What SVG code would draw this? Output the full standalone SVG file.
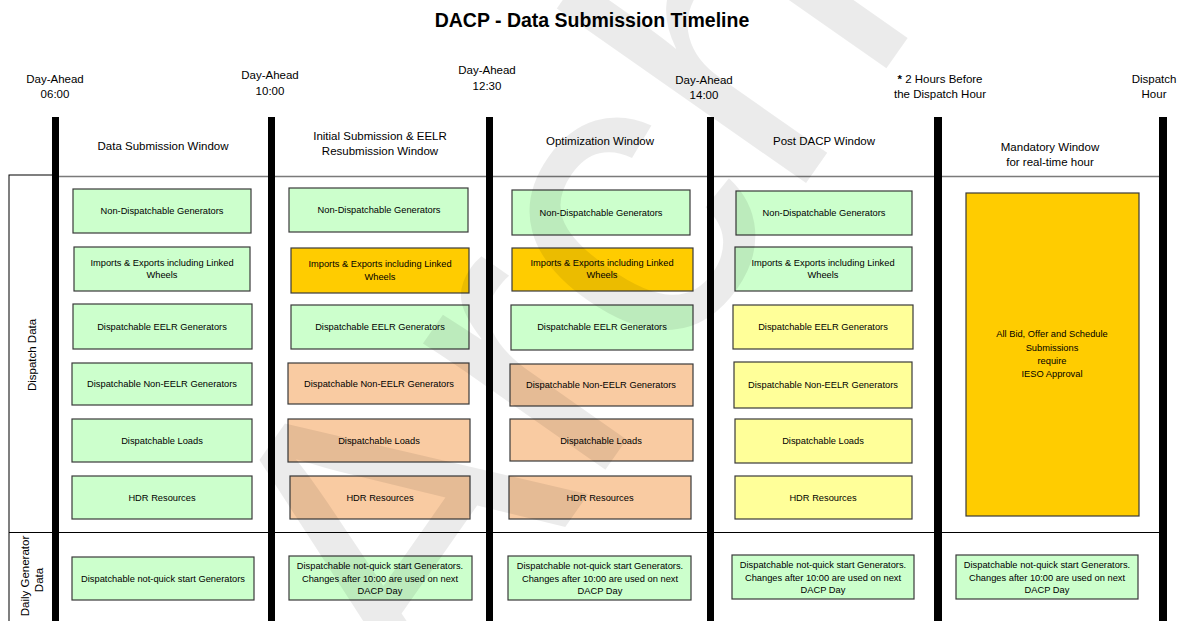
<svg xmlns="http://www.w3.org/2000/svg" width="1178" height="621" viewBox="0 0 1178 621">
<style>
text{font-family:"Liberation Sans",Arial,sans-serif;fill:#000}
.t{font-size:11.5px;text-anchor:middle}
.b{font-size:9.3px;text-anchor:middle}
.g{fill:#CCFFCC;stroke:#3a3a3a;stroke-width:1.2}
.o{fill:#FFCC00;stroke:#3a3a3a;stroke-width:1.2}
.p{fill:#F9CBA2;stroke:#3a3a3a;stroke-width:1.2}
.y{fill:#FFFF99;stroke:#3a3a3a;stroke-width:1.2}
.bar{fill:#000}
</style>
<rect width="1178" height="621" fill="#fff"/>
<text x="592" y="27" style="font-size:19.5px;font-weight:bold;text-anchor:middle">DACP - Data Submission Timeline</text>

<g id="time-labels">
<text class="t" x="55" y="83">Day-Ahead</text><text class="t" x="55" y="98">06:00</text>
<text class="t" x="270" y="79">Day-Ahead</text><text class="t" x="270" y="95">10:00</text>
<text class="t" x="487" y="74">Day-Ahead</text><text class="t" x="487" y="90">12:30</text>
<text class="t" x="704" y="84">Day-Ahead</text><text class="t" x="704" y="99">14:00</text>
<text class="t" x="940" y="83"><tspan font-weight="bold">*</tspan> 2 Hours Before</text><text class="t" x="940" y="98">the Dispatch Hour</text>
<text class="t" x="1154" y="83">Dispatch</text><text class="t" x="1154" y="98">Hour</text>
</g>

<g id="window-labels">
<text class="t" x="163" y="150">Data Submission Window</text>
<text class="t" x="380" y="140">Initial Submission &amp; EELR</text><text class="t" x="380" y="155">Resubmission Window</text>
<text class="t" x="600" y="145">Optimization Window</text>
<text class="t" x="824" y="145">Post DACP Window</text>
<text class="t" x="1050" y="151">Mandatory Window</text><text class="t" x="1050" y="166">for real-time hour</text>
</g>

<g id="grid">
<rect x="9" y="175" width="45" height="450" fill="none" stroke="#000" stroke-width="1"/>
<line x1="54" y1="176.5" x2="1160" y2="176.5" stroke="#7a7a7a" stroke-width="1.5"/>
<line x1="9" y1="532.5" x2="1160" y2="532.5" stroke="#000" stroke-width="1"/>
<text class="t" transform="translate(36,355) rotate(-90)">Dispatch Data</text>
<text class="t" transform="translate(29,576) rotate(-90)">Daily Generator</text>
<text class="t" transform="translate(43,580) rotate(-90)">Data</text>
</g>

<g id="col1">
<g id="c1-nondisp"><rect class="g" x="73" y="189" width="178" height="44"/><text class="b" x="162" y="214">Non-Dispatchable Generators</text></g>
<g id="c1-imports"><rect class="g" x="74" y="247" width="176" height="44"/><text class="b" x="162" y="266">Imports &amp; Exports including Linked</text><text class="b" x="162" y="278">Wheels</text></g>
<g id="c1-eelr"><rect class="g" x="73" y="304" width="179" height="45"/><text class="b" x="162" y="330">Dispatchable EELR Generators</text></g>
<g id="c1-noneelr"><rect class="g" x="72" y="363" width="180" height="42"/><text class="b" x="162" y="387">Dispatchable Non-EELR Generators</text></g>
<g id="c1-loads"><rect class="g" x="72" y="419" width="180" height="43"/><text class="b" x="162" y="444">Dispatchable Loads</text></g>
<g id="c1-hdr"><rect class="g" x="72" y="476" width="180" height="43"/><text class="b" x="162" y="501">HDR Resources</text></g>
<g id="c1-daily"><rect class="g" x="72" y="557" width="182" height="43"/><text class="b" x="163" y="582">Dispatchable not-quick start Generators</text></g>
</g>

<g id="col2">
<g id="c2-nondisp"><rect class="g" x="289" y="188" width="179" height="44"/><text class="b" x="379" y="213">Non-Dispatchable Generators</text></g>
<g id="c2-imports"><rect class="o" x="291" y="248" width="178" height="45"/><text class="b" x="380" y="267">Imports &amp; Exports including Linked</text><text class="b" x="380" y="280">Wheels</text></g>
<g id="c2-eelr"><rect class="g" x="291" y="305" width="178" height="44"/><text class="b" x="380" y="330">Dispatchable EELR Generators</text></g>
<g id="c2-noneelr"><rect class="p" x="288" y="363" width="181" height="41"/><text class="b" x="379" y="387">Dispatchable Non-EELR Generators</text></g>
<g id="c2-loads"><rect class="p" x="288" y="419" width="182" height="43"/><text class="b" x="379" y="444">Dispatchable Loads</text></g>
<g id="c2-hdr"><rect class="p" x="290" y="476" width="180" height="43"/><text class="b" x="380" y="501">HDR Resources</text></g>
<g id="c2-daily"><rect class="g" x="289" y="556" width="183" height="44"/><text class="b" x="380" y="569">Dispatchable not-quick start Generators.</text><text class="b" x="380" y="582">Changes after 10:00 are used on next</text><text class="b" x="380" y="594">DACP Day</text></g>
</g>

<g id="col3">
<g id="c3-nondisp"><rect class="g" x="512" y="190" width="178" height="45"/><text class="b" x="601" y="216">Non-Dispatchable Generators</text></g>
<g id="c3-imports"><rect class="o" x="512" y="248" width="181" height="43"/><text class="b" x="602" y="266">Imports &amp; Exports including Linked</text><text class="b" x="602" y="278">Wheels</text></g>
<g id="c3-eelr"><rect class="g" x="511" y="305" width="182" height="45"/><text class="b" x="602" y="330">Dispatchable EELR Generators</text></g>
<g id="c3-noneelr"><rect class="p" x="510" y="364" width="183" height="42"/><text class="b" x="601" y="388">Dispatchable Non-EELR Generators</text></g>
<g id="c3-loads"><rect class="p" x="510" y="419" width="183" height="42"/><text class="b" x="601" y="444">Dispatchable Loads</text></g>
<g id="c3-hdr"><rect class="p" x="509" y="476" width="182" height="43"/><text class="b" x="600" y="501">HDR Resources</text></g>
<g id="c3-daily"><rect class="g" x="508" y="556" width="183" height="44"/><text class="b" x="600" y="569">Dispatchable not-quick start Generators.</text><text class="b" x="600" y="582">Changes after 10:00 are used on next</text><text class="b" x="600" y="594">DACP Day</text></g>
</g>

<g id="col4">
<g id="c4-nondisp"><rect class="g" x="736" y="191" width="176" height="44"/><text class="b" x="824" y="216">Non-Dispatchable Generators</text></g>
<g id="c4-imports"><rect class="g" x="735" y="247" width="177" height="44"/><text class="b" x="823" y="266">Imports &amp; Exports including Linked</text><text class="b" x="823" y="278">Wheels</text></g>
<g id="c4-eelr"><rect class="y" x="733" y="305" width="180" height="44"/><text class="b" x="823" y="330">Dispatchable EELR Generators</text></g>
<g id="c4-noneelr"><rect class="y" x="734" y="362" width="178" height="46"/><text class="b" x="823" y="388">Dispatchable Non-EELR Generators</text></g>
<g id="c4-loads"><rect class="y" x="735" y="419" width="177" height="44"/><text class="b" x="823" y="444">Dispatchable Loads</text></g>
<g id="c4-hdr"><rect class="y" x="735" y="476" width="177" height="43"/><text class="b" x="823" y="501">HDR Resources</text></g>
<g id="c4-daily"><rect class="g" x="732" y="555" width="182" height="44"/><text class="b" x="823" y="568">Dispatchable not-quick start Generators.</text><text class="b" x="823" y="581">Changes after 10:00 are used on next</text><text class="b" x="823" y="593">DACP Day</text></g>
</g>

<g id="col5">
<g id="c5-mandatory"><rect class="o" x="966" y="193" width="173" height="323"/><text class="b" x="1052" y="337">All Bid, Offer and Schedule</text><text class="b" x="1052" y="351">Submissions</text><text class="b" x="1052" y="364">require</text><text class="b" x="1052" y="377">IESO Approval</text></g>
<g id="c5-daily"><rect class="g" x="956" y="555" width="182" height="44"/><text class="b" x="1047" y="568">Dispatchable not-quick start Generators.</text><text class="b" x="1047" y="581">Changes after 10:00 are used on next</text><text class="b" x="1047" y="593">DACP Day</text></g>
</g>

<g id="connectors">
<rect class="bar" x="52" y="117" width="7" height="504"/>
<rect class="bar" x="268" y="117" width="7" height="504"/>
<rect class="bar" x="486" y="117" width="7" height="504"/>
<rect class="bar" x="707" y="117" width="7" height="504"/>
<rect class="bar" x="934" y="117" width="8" height="504"/>
<rect class="bar" x="1159" y="117" width="8" height="504"/>
</g>

<g id="watermark">
<text transform="translate(428,723) rotate(-55)" style="font-size:420px;fill:#000;fill-opacity:0.08">Archived</text>
</g>
</svg>
